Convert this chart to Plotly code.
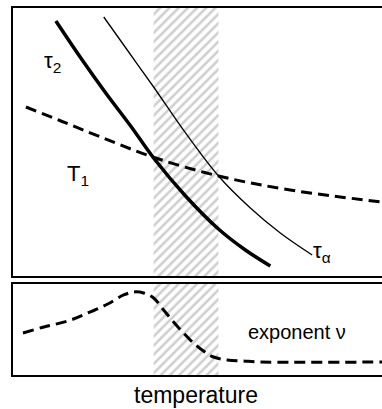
import plotly.graph_objects as go

# Temperature axis (arbitrary units) and relaxation-time curves (log scale, arbitrary units)
tau2_T = [43, 68, 93, 118, 141, 173, 206, 233, 258]
tau2_val = [255, 218, 183, 150, 118, 80, 47, 26, 10]

tau_alpha_T = [91, 116, 141, 173, 206, 238, 268, 300]
tau_alpha_val = [259, 224, 189, 143, 100, 68, 43, 21]

T1_T = [13, 48, 88, 140, 206, 278, 370]
T1_val = [169, 155, 139, 119, 100, 86, 74]

# Exponent nu versus temperature
nu_T = [10, 31, 55, 75, 95, 111, 121, 131, 141, 151, 161, 171, 181, 191, 201, 215, 231, 248, 370]
nu_val = [42, 48, 54, 62, 71, 80, 83, 82, 77, 65, 53, 42, 32, 24, 18, 15, 14, 13, 13]

# Crossover region bounded by the tau2/T1 and tau_alpha/T1 crossings
cross_lo, cross_hi = 141, 206

T_range = [0, 370]
top_range = [0, 268]
bot_range = [0, 91]

FONT = "Liberation Sans, Arial, sans-serif"
hatch = dict(shape="/", fgcolor="#a0a0a0", bgcolor="rgba(0,0,0,0)", size=6.5, solidity=0.4)

fig = go.Figure()

# Hatched band in both panels
for xa, ya, yr in (("x", "y", top_range), ("x2", "y2", bot_range)):
    fig.add_trace(go.Scatter(
        x=[cross_lo, cross_hi, cross_hi, cross_lo, cross_lo],
        y=[yr[0], yr[0], yr[1], yr[1], yr[0]],
        fill="toself", fillcolor="rgba(0,0,0,0)", fillpattern=hatch,
        mode="none", xaxis=xa, yaxis=ya, hoverinfo="skip", showlegend=False))

fig.add_trace(go.Scatter(x=T1_T, y=T1_val, mode="lines", line=dict(color="black", width=3, dash="11px,6px", shape="spline"),
                         xaxis="x", yaxis="y", showlegend=False))
fig.add_trace(go.Scatter(x=tau_alpha_T, y=tau_alpha_val, mode="lines", line=dict(color="black", width=1.3, shape="spline"),
                         xaxis="x", yaxis="y", showlegend=False))
fig.add_trace(go.Scatter(x=tau2_T, y=tau2_val, mode="lines", line=dict(color="black", width=3.5, shape="spline"),
                         xaxis="x", yaxis="y", showlegend=False))
fig.add_trace(go.Scatter(x=nu_T, y=nu_val, mode="lines", line=dict(color="black", width=3, dash="11px,6px", shape="spline"),
                         xaxis="x2", yaxis="y2", showlegend=False))

axis_common = dict(showgrid=False, zeroline=False, showticklabels=False, ticks="",
                   showline=True, linecolor="black", linewidth=2)

def lbl(text, x, y, size=22, xref="x", yref="y"):
    return dict(text=text, x=x, y=y, xref=xref, yref=yref, xanchor="left", yanchor="middle",
                showarrow=False, font=dict(family=FONT, size=size, color="black"), borderpad=0)

fig.update_layout(
    width=382, height=409,
    margin=dict(l=13, r=0, t=8, b=34),
    paper_bgcolor="white", plot_bgcolor="white",
    xaxis=dict(range=T_range, domain=[0, 1], anchor="y", mirror=True, **axis_common),
    yaxis=dict(range=top_range, domain=[0.2698, 1], anchor="x", mirror=False, **axis_common),
    xaxis2=dict(range=T_range, domain=[0, 1], anchor="y2", mirror=True, **axis_common),
    yaxis2=dict(range=bot_range, domain=[0, 0.248], anchor="x2", mirror=False, **axis_common),
    annotations=[
        lbl("τ<sub>2</sub>", 30, 214),
        lbl("T<sub>1</sub>", 53, 101),
        lbl("τ<sub>α</sub>", 300, 24),
        lbl("exponent ν", 235, 43, 20, "x2", "y2"),
        dict(text="temperature", x=(196 - 13) / 369, y=(375 - 395) / 367, xref="paper", yref="paper",
             xanchor="center", yanchor="middle", showarrow=False,
             font=dict(family=FONT, size=23, color="black")),
    ],
)

fig.write_html("out.html")
